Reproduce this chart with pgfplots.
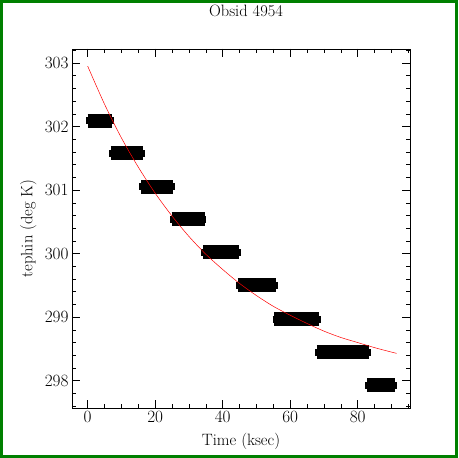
\documentclass[border=0pt]{standalone}
\usepackage{pgfplots}
\pgfplotsset{compat=1.18}
\definecolor{brd}{RGB}{0,128,0}
\begin{document}
\begin{tikzpicture}[x=1bp,y=1bp]
\path[use as bounding box] (0,0) rectangle (458,458);
\fill[white] (0,0) rectangle (458,458);
\begin{axis}[
  at={(72bp,50bp)}, anchor=south west,
  width=338bp, height=359bp, scale only axis,
  xmin=-4.65, xmax=95.5, ymin=297.57, ymax=303.22,
  xtick={0,20,...,80}, minor xtick={-5,0,...,95},
  ytick={298,...,303}, minor ytick={297.6,297.8,...,303.2},
  major tick length=8bp, minor tick length=4bp,
  tick style={black, line width=0.5pt},
  axis line style={black, line width=0.6pt},
  tick label style={font=\fontsize{16.5}{19}\selectfont},
  label style={font=\fontsize{16.5}{19}\selectfont},
  yticklabel style={/pgf/number format/.cd, fixed, 1000 sep={}},
  xlabel={Time (ksec)}, ylabel={tephin (deg K)},
  xlabel style={at={(axis description cs:0.5,0)}, anchor=north, yshift=-22bp},
  ylabel style={at={(axis description cs:0,0.5)}, anchor=south, yshift=32bp},
  clip=true, unbounded coords=jump,
]
% bar bodies
\addplot[black, line width=14bp, line cap=butt] coordinates {
(0.0,302.09)(7.3,302.09) (nan,nan)
(6.9,301.58)(16.5,301.58) (nan,nan)
(15.8,301.05)(25.4,301.05) (nan,nan)
(24.9,300.54)(34.7,300.54) (nan,nan)
(34.2,300.02)(44.8,300.02) (nan,nan)
(44.4,299.50)(55.9,299.50) (nan,nan)
(55.3,298.97)(68.5,298.97) (nan,nan)
(67.9,298.45)(83.3,298.45) (nan,nan)
(82.8,297.93)(91.1,297.93)
};
% bar caps
\addplot[black, line width=7bp, line cap=butt] coordinates {
(-0.5,302.09)(7.8,302.09) (nan,nan)
(6.4,301.58)(17.0,301.58) (nan,nan)
(15.3,301.05)(25.9,301.05) (nan,nan)
(24.4,300.54)(35.2,300.54) (nan,nan)
(33.7,300.02)(45.3,300.02) (nan,nan)
(43.9,299.50)(56.4,299.50) (nan,nan)
(54.8,298.97)(69.0,298.97) (nan,nan)
(67.4,298.45)(83.8,298.45) (nan,nan)
(82.3,297.93)(91.6,297.93)
};
% fitted curve
\addplot[red, line width=0.5pt, smooth] coordinates {
(0,302.95)(5,302.35)(10,301.82)(15,301.36)(20,300.95)(25,300.59)
(30,300.27)(35,299.99)(40,299.75)(45,299.53)(50,299.34)(55,299.17)
(60,299.03)(65,298.90)(70,298.78)(75,298.68)(80,298.60)(85,298.52)
(90,298.45)(91.5,298.43)
};
\end{axis}
\node[font=\fontsize{16.5}{19}\selectfont, anchor=base] at (246,441) {Obsid 4954};
\draw[brd, line width=3bp] (1.5,1.5) rectangle (456.5,456.5);
\end{tikzpicture}
\end{document}
